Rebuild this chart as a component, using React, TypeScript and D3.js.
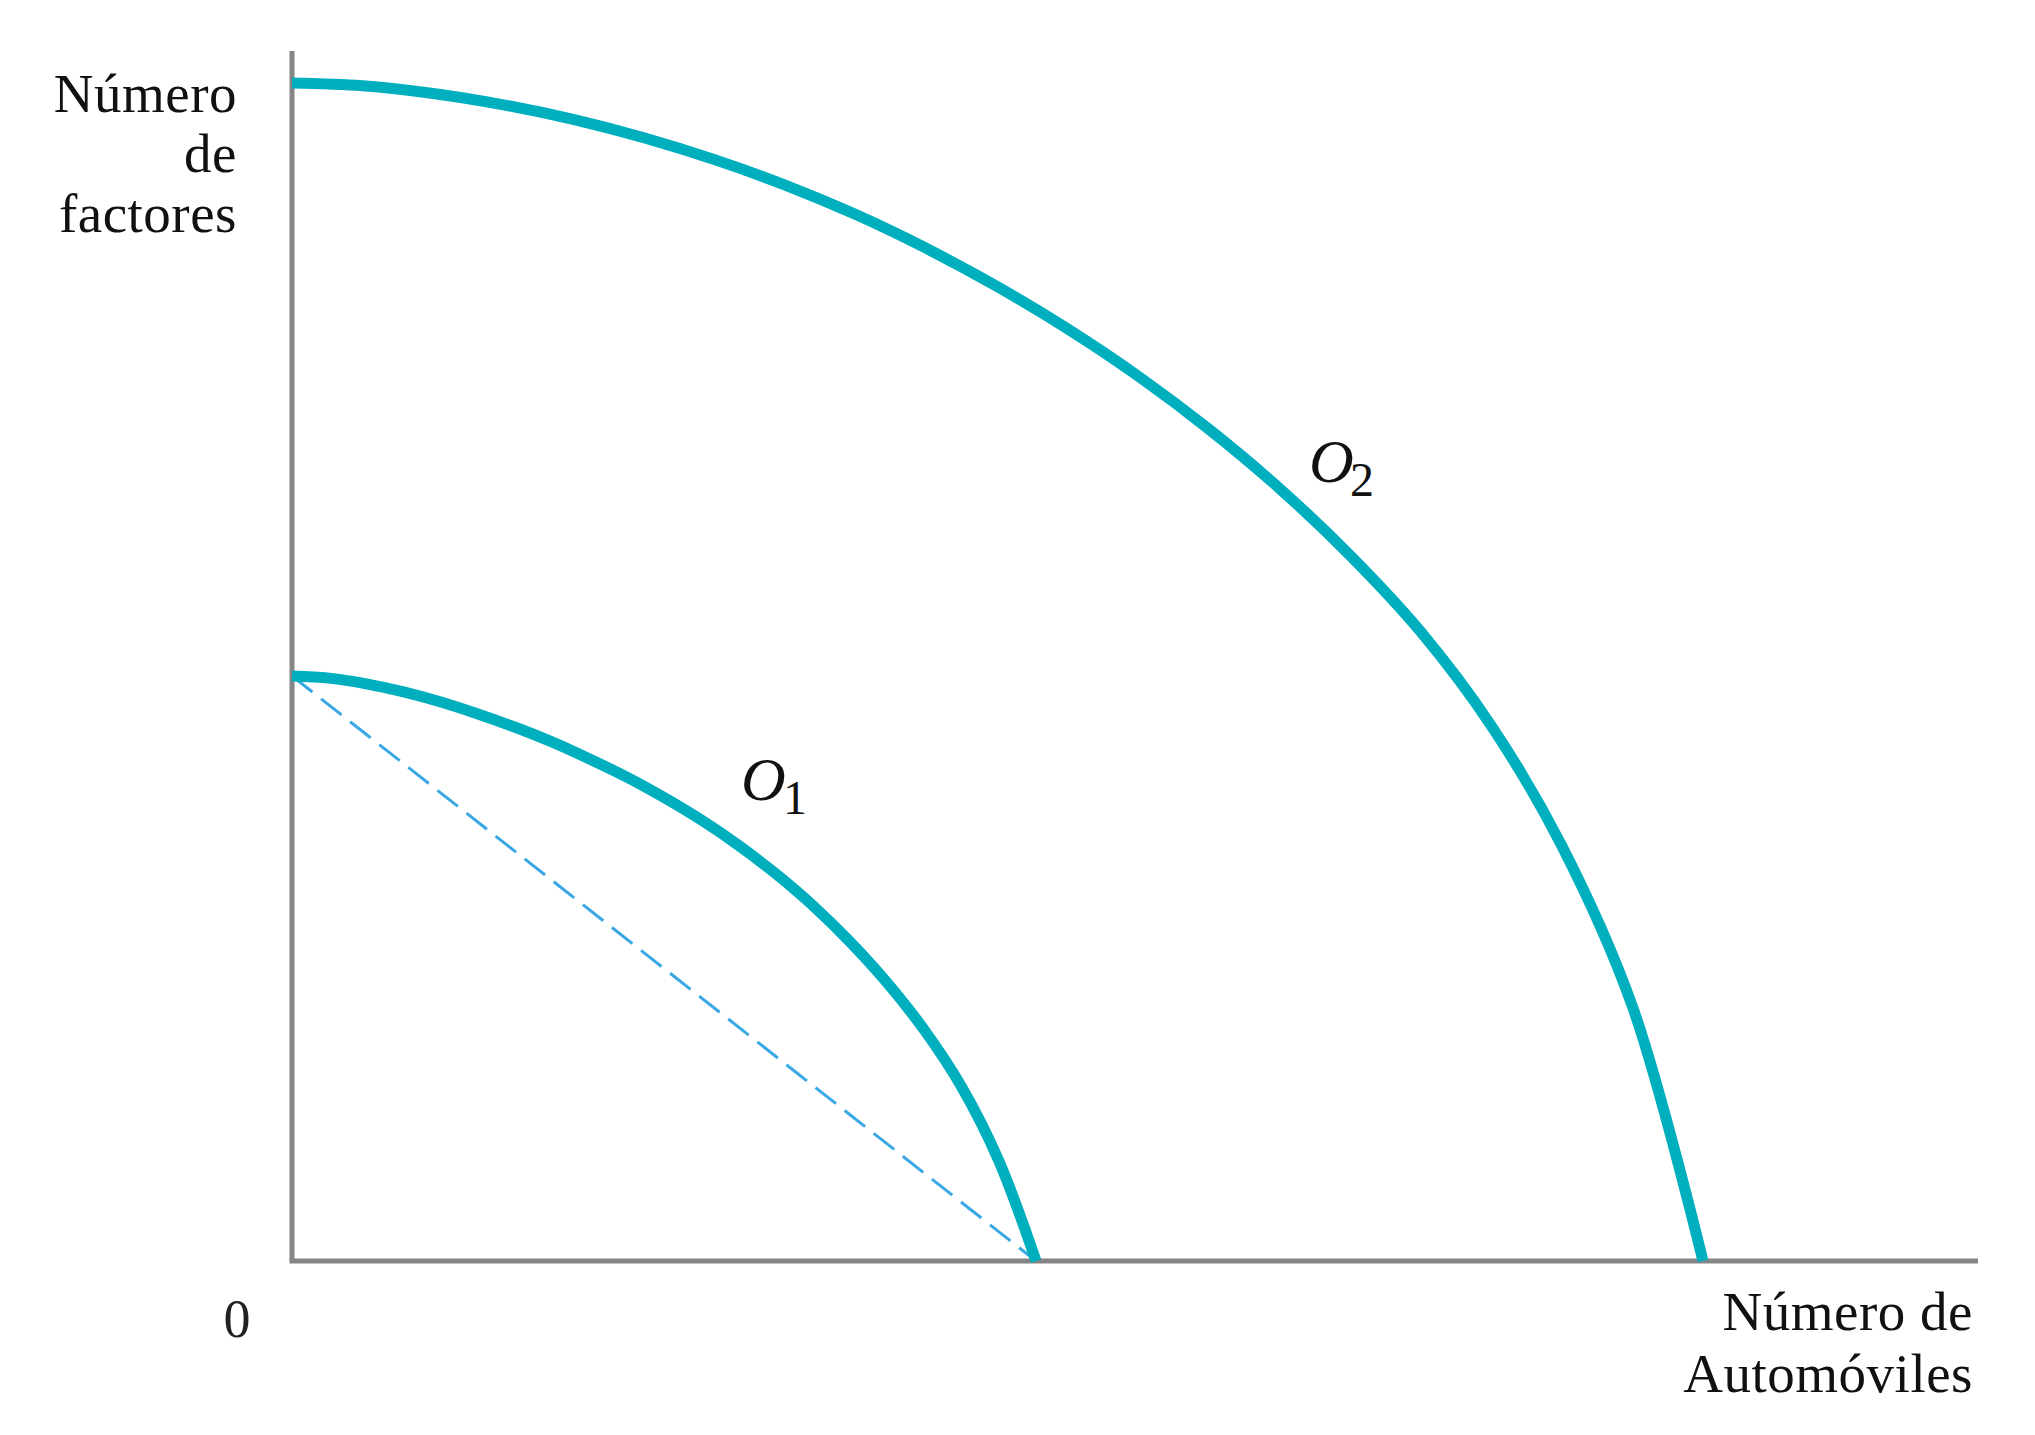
import React from "react";
import * as d3 from "d3";

// ---- data (unitless 0..100 axes) ----
const o1X = [0, 2.21, 4.41, 6.62, 8.83, 11.03, 13.24, 15.45, 17.65, 19.86, 22.07, 24.27, 26.48, 28.68, 30.89, 33.1, 35.3, 37.51, 39.72, 41.92, 44.13];
const o1Y = [48.35, 48.17, 47.7, 47.03, 46.2, 45.21, 44.11, 42.88, 41.49, 39.99, 38.3, 36.45, 34.36, 32.02, 29.38, 26.37, 22.99, 19.08, 14.38, 8.29, 0];

const o2X = [0, 4.18, 8.37, 12.55, 16.74, 20.92, 25.11, 29.29, 33.48, 37.66, 41.85, 46.03, 50.21, 54.4, 58.58, 62.77, 66.95, 71.14, 75.32, 79.51, 83.69];
const o2Y = [97.36, 97.13, 96.49, 95.55, 94.33, 92.81, 91.0, 88.9, 86.46, 83.66, 80.51, 77.01, 73.11, 68.73, 63.84, 58.3, 52.0, 44.22, 34.3, 21.01, 0];

const yAxisLabel = ["Número", "de", "factores"];
const xAxisLabel = ["Número de", "Automóviles"];
const originLabel = "0";
const curveLetters = ["O", "O"];
const curveSubscripts = ["1", "2"];

const W = 2035;
const H = 1435;

export default function App() {
  const x = d3.scaleLinear().domain([0, 100]).range([292, 1978]);
  const y = d3.scaleLinear().domain([0, 100]).range([1261, 51]);

  const line = d3
    .line<[number, number]>()
    .x((d) => x(d[0]))
    .y((d) => y(d[1]))
    .curve(d3.curveCatmullRom.alpha(0.5));

  const o1 = o1X.map((v, i) => [v, o1Y[i]] as [number, number]);
  const o2 = o2X.map((v, i) => [v, o2Y[i]] as [number, number]);

  const straight = d3
    .line<[number, number]>()
    .x((d) => x(d[0]))
    .y((d) => y(d[1]));
  const chord: [number, number][] = [
    [o1X[0], o1Y[0]],
    [o1X[o1X.length - 1], o1Y[o1Y.length - 1]],
  ];

  const teal = "#00AFBE";
  const axisColor = "#858585";
  const font = "'Liberation Serif', 'Times New Roman', serif";

  return (
    <svg
      width={W}
      height={H}
      viewBox={`0 0 ${W} ${H}`}
      style={{ position: "absolute", left: 0, top: 0, display: "block", background: "#fff" }}
    >
      <rect x={0} y={0} width={W} height={H} fill="#fff" />
      {/* axes */}
      <line x1={x(0)} y1={y(0)} x2={x(0)} y2={y(100)} stroke={axisColor} strokeWidth={5} />
      <line x1={x(0) - 2.5} y1={y(0)} x2={x(100)} y2={y(0)} stroke={axisColor} strokeWidth={5} />

      {/* dashed chord */}
      <path
        d={straight(chord) || ""}
        fill="none"
        stroke="#3AA8E4"
        strokeWidth={3}
        strokeDasharray="26 11"
      />

      {/* curves */}
      <path d={line(o1) || ""} fill="none" stroke={teal} strokeWidth={11} />
      <path d={line(o2) || ""} fill="none" stroke={teal} strokeWidth={11} />

      {/* y axis label */}
      <g fontFamily={font} fontSize={55} fill="#111" textAnchor="end" letterSpacing={0.5}>
        {yAxisLabel.map((t, i) => (
          <text key={t} x={237} y={112 + i * 60}>
            {t}
          </text>
        ))}
      </g>

      {/* x axis label */}
      <g fontFamily={font} fontSize={55} fill="#111" textAnchor="end" letterSpacing={0.5}>
        {xAxisLabel.map((t, i) => (
          <text key={t} x={1973} y={1330 + i * 62}>
            {t}
          </text>
        ))}
      </g>

      {/* origin */}
      <text x={237} y={1337} fontFamily={font} fontSize={54} fill="#222" textAnchor="middle">
        {originLabel}
      </text>

      {/* curve labels */}
      <g fontFamily={font} fill="#111">
        <text x={741} y={800} fontSize={62} fontStyle="italic">
          {curveLetters[0]}
        </text>
        <text x={783} y={814} fontSize={48}>
          {curveSubscripts[0]}
        </text>
        <text x={1309} y={482} fontSize={62} fontStyle="italic">
          {curveLetters[1]}
        </text>
        <text x={1350} y={496} fontSize={48}>
          {curveSubscripts[1]}
        </text>
      </g>
    </svg>
  );
}
